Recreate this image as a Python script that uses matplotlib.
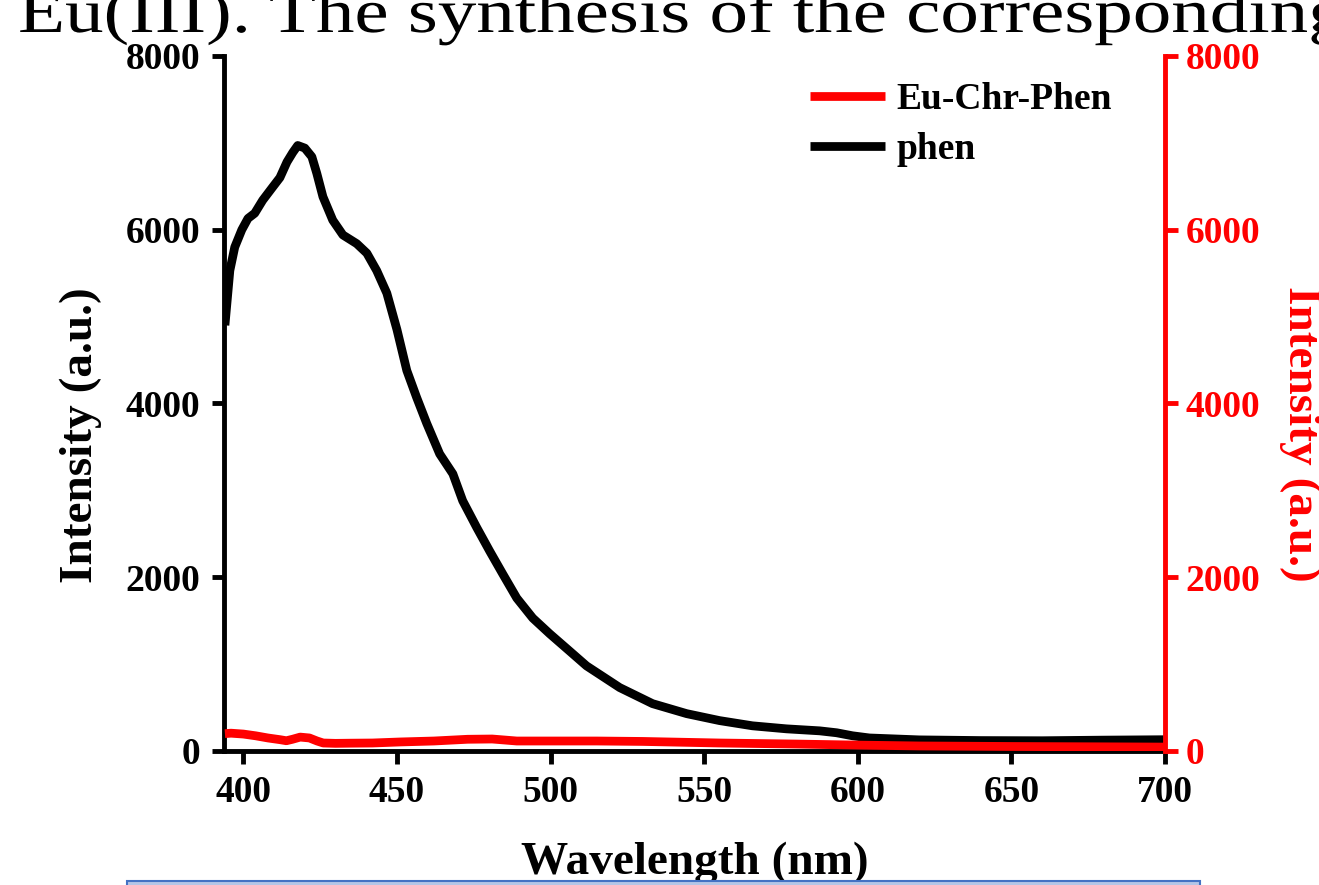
#!/usr/bin/env python3
import matplotlib
matplotlib.use('Agg')
import matplotlib.pyplot as plt
from matplotlib.textpath import TextPath
from matplotlib.patches import PathPatch, Rectangle
from matplotlib.font_manager import FontProperties
from matplotlib.transforms import Affine2D

# Emission spectra
wavelength_phen = [394, 395.6, 397.2, 399.5, 401.5, 403.7, 406.3, 409.3, 411.9, 414.2,
                   416.1, 417.7, 420.0, 422.3, 423.9, 425.9, 429.1, 432.4, 436.9, 440.2,
                   443.4, 446.7, 450.0, 453.2, 456.4, 459.7, 463.9, 468.2, 471.4, 476.0,
                   480.2, 484.4, 489.0, 494.2, 499.7, 506.2, 511.7, 522.5, 533.2, 544.3,
                   555.0, 565.7, 576.8, 587.6, 593.1, 598.3, 603.8, 620, 640, 660, 680, 700]
intensity_phen = [4900, 5530, 5800, 6000, 6130, 6190, 6340, 6480, 6600, 6780,
                  6890, 6970, 6940, 6840, 6650, 6380, 6110, 5940, 5840, 5730,
                  5530, 5270, 4850, 4380, 4070, 3770, 3420, 3190, 2880, 2570,
                  2300, 2040, 1760, 1530, 1350, 1150, 980, 730, 545, 430,
                  350, 290, 255, 232, 210, 175, 150, 128, 120, 118, 125, 130]

wavelength_eu = [394, 396, 400, 404, 408, 412, 414, 416, 418.5, 421.5, 424, 426, 430, 435,
                 442, 451, 462, 473, 481, 489, 500, 515, 530, 555, 580, 600, 620, 650, 680, 700]
intensity_eu = [200, 205, 195, 175, 150, 130, 118, 135, 160, 150, 115, 92, 88, 90,
                92, 104, 115, 135, 138, 115, 115, 115, 110, 92, 80, 68, 58, 52, 48, 45]

x_ticks = [400, 450, 500, 550, 600, 650, 700]
y_ticks = [0, 2000, 4000, 6000, 8000]

header_text = 'Eu(III). The synthesis of the corresponding'

plt.rcParams['font.family'] = 'Liberation Serif'
plt.rcParams['font.weight'] = 'bold'

W, H = 1319, 885
fig = plt.figure(figsize=(W / 100, H / 100), dpi=100)
ax = fig.add_axes([224 / W, 1 - 751 / H, (1165 - 224) / W, (751 - 56) / H])
ax2 = ax.twinx()

line_phen, = ax.plot(wavelength_phen, intensity_phen, color='black', lw=6.3,
                     solid_capstyle='butt', label='phen')
line_eu, = ax2.plot(wavelength_eu, intensity_eu, color='#ff0000', lw=6.3,
                    solid_capstyle='butt', label='Eu-Chr-Phen')

for a in (ax, ax2):
    a.set_xlim(393.7, 700)
    a.set_ylim(0, 8000)
    a.set_yticks(y_ticks)
    a.spines['top'].set_visible(False)
    for s in a.spines.values():
        s.set_linewidth(3.5)
ax.set_xticks(x_ticks)
ax.spines['right'].set_visible(False)
ax2.spines['left'].set_visible(False)
ax2.spines['bottom'].set_visible(False)
ax2.spines['right'].set_color('#ff0000')

ax.tick_params(axis='both', direction='out', length=9, width=3.5, labelsize=27)
ax.tick_params(axis='y', pad=8)
ax.tick_params(axis='x', pad=8)
ax2.tick_params(axis='y', direction='out', length=9, width=3.5, labelsize=27,
                colors='#ff0000', pad=6)

# axis titles
fig.text(81 / W, 1 - 435 / H, 'Intensity (a.u.)', rotation=90, ha='center', va='center',
         fontsize=34, fontweight='bold')
fig.text(1300 / W, 1 - 434 / H, 'Intensity (a.u.)', rotation=270, ha='center', va='center',
         fontsize=34, fontweight='bold', color='#ff0000')
fig.text(695 / W, 1 - 874 / H, 'Wavelength (nm)', ha='center', va='baseline',
         fontsize=34, fontweight='bold')

ax2.legend([line_eu, line_phen], ['Eu-Chr-Phen', 'phen'], loc='upper left',
           bbox_to_anchor=(810 / W, 1 - 82 / H), bbox_transform=fig.transFigure,
           frameon=False, fontsize=27, handlelength=2.0, handletextpad=0.3,
           labelspacing=0.4, borderpad=0, borderaxespad=0)

# text of the page above the figure (slightly wide glyphs)
tp = TextPath((0, 0), header_text, size=1,
              prop=FontProperties(family='Liberation Serif', weight='normal'))
fig.add_artist(PathPatch(tp, transform=Affine2D().scale(77, 62).translate(18, H - 32),
                         facecolor='black', edgecolor='none'))

# caption box of the page at the bottom
fig.add_artist(Rectangle((127 / W, -0.05), (1200 - 127) / W, 0.05 + 1 - 881 / H,
                         transform=fig.transFigure, facecolor='#b4c6e7',
                         edgecolor='#4472c4', lw=1.5, zorder=10))

fig.savefig('out.png', dpi=100)
